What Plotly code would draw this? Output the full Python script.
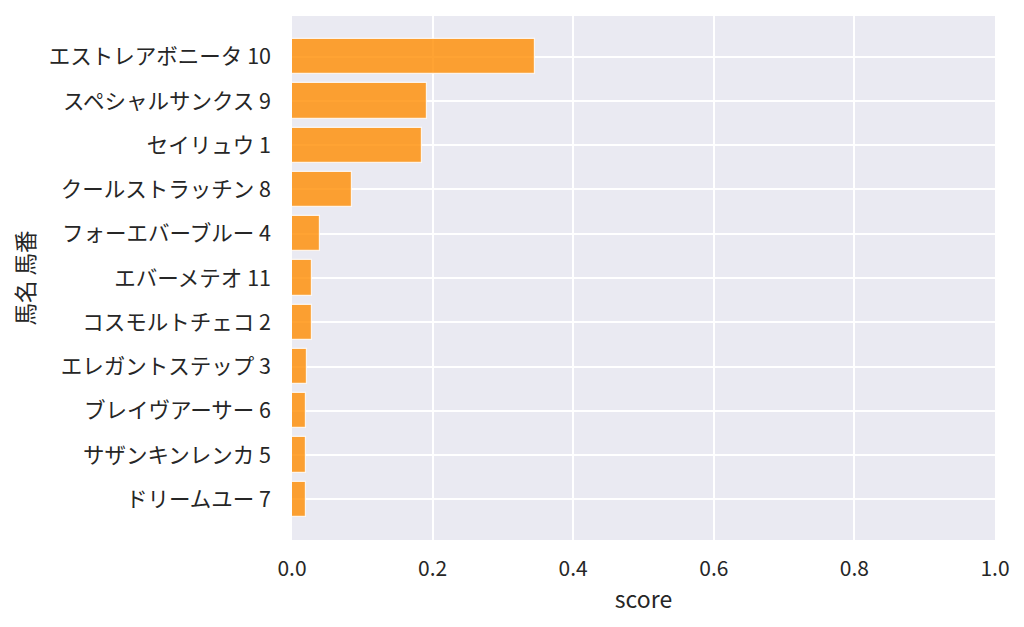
import plotly.graph_objects as go

horses = ["エストレアボニータ 10", "スペシャルサンクス 9", "セイリュウ 1", "クールストラッチン 8",
          "フォーエバーブルー 4", "エバーメテオ 11", "コスモルトチェコ 2", "エレガントステップ 3",
          "ブレイヴアーサー 6", "サザンキンレンカ 5", "ドリームユー 7"]
scores = [0.345, 0.192, 0.185, 0.085, 0.040, 0.029, 0.028, 0.022, 0.020, 0.020, 0.020]
x_ticks = [0.0, 0.2, 0.4, 0.6, 0.8, 1.0]
x_tick_labels = ["0.0", "0.2", "0.4", "0.6", "0.8", "1.0"]

FONT = "Noto Sans CJK JP"
TXT = "#262626"

fig = go.Figure(go.Bar(
    x=scores, y=list(range(len(horses))), orientation="h", width=0.8,
    marker=dict(color="rgba(255,140,0,0.8)", line=dict(color="rgba(255,255,255,0.8)", width=1.2)),
))

fig.update_layout(
    width=1024, height=627,
    margin=dict(l=284, r=37, t=8, b=95),
    paper_bgcolor="white", plot_bgcolor="#eaeaf2",
    font=dict(family=FONT, color=TXT, size=22),
    showlegend=False,
    bargap=0,
)
fig.update_xaxes(
    range=[0, 1], tickvals=x_ticks, ticktext=x_tick_labels,
    showgrid=True, gridcolor="white", gridwidth=1.5, zeroline=False,
    showline=False, ticks="", tickfont=dict(size=21, color=TXT),
    ticklabelstandoff=14,
    title=dict(text="score", font=dict(size=23, color=TXT), standoff=10),
)
fig.update_yaxes(
    range=[len(horses) - 1 + 0.92, -0.92],
    tickvals=list(range(len(horses))), ticktext=horses,
    showgrid=True, gridcolor="white", gridwidth=1.5, zeroline=False,
    showline=False, ticks="", tickfont=dict(size=21.5, color=TXT),
    ticklabelstandoff=20,
    title=dict(text="馬名 馬番", font=dict(size=22.5, color=TXT), standoff=12),
)

fig.write_html("out.html")
